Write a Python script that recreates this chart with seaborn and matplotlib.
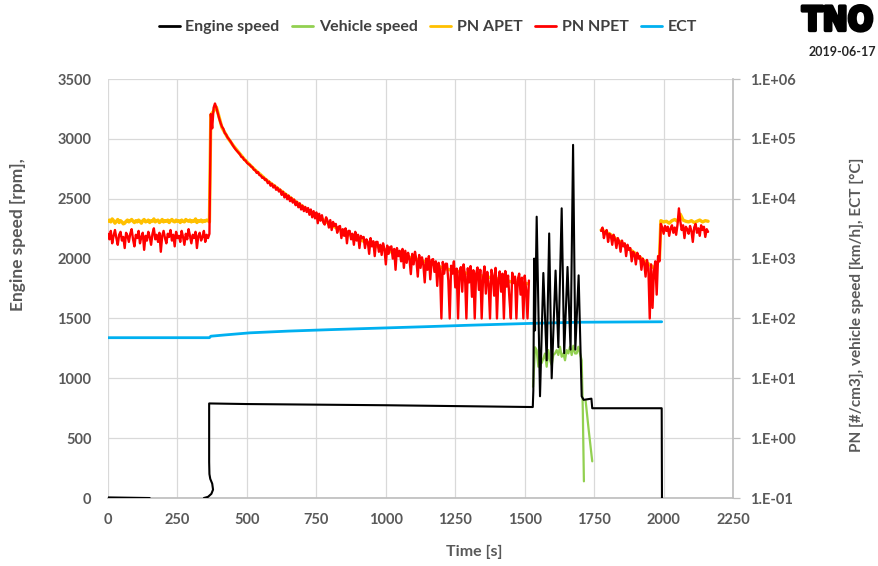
import numpy as np
import pandas as pd
import matplotlib
matplotlib.use("Agg")
import matplotlib.pyplot as plt
import matplotlib.patheffects as pe
from matplotlib.lines import Line2D
from matplotlib.ticker import FixedLocator, FuncFormatter, NullLocator
import seaborn as sns

# ---------------------------------------------------------------------------
# Measured signals (time in s). NaN marks a break in the trace.
# ---------------------------------------------------------------------------

# Engine speed [rpm]
eng_t = [0, 60, 150, np.nan, 345, 360, 372, 378, 375, 368, 365, 364, 364, 500, 1000,
         1529, 1531, 1534, 1537, 1543, 1555, 1567, 1579, 1588, 1597, 1611, 1621, 1633,
         1642, 1654, 1665, 1674, 1682, 1694, 1705, 1712, 1740, 1743, 1993, 1994]
eng_rpm = [5, 3, 0, np.nan, 0, 10, 35, 70, 120, 160, 200, 300, 790, 785, 775,
           760, 900, 2000, 1400, 2350, 850, 1880, 1150, 2210, 1000, 1900, 1260, 2420,
           1210, 1930, 1240, 2950, 1240, 1860, 850, 820, 830, 750, 750, 0]

# Vehicle speed [km/h]
veh_t = [1530, 1537, 1543, 1549, 1555, 1561, 1567, 1573, 1579, 1585, 1591, 1597, 1603,
         1609, 1615, 1621, 1627, 1633, 1639, 1645, 1651, 1657, 1663, 1669, 1675, 1681,
         1687, 1693, 1699, 1705, 1709, 1713, np.nan, 1719, 1730, 1743]
veh_kmh = [7.2, 33, 29.6, 15.6, 26, 18, 21.5, 26, 15.6, 29.6, 20, 16.7, 24.5,
           26, 29.6, 24.5, 33.7, 22.9, 26, 20, 29.6, 26, 33.7, 24.5, 35, 26,
           26, 33.7, 26, 20, 3, 0.19, np.nan, 4.3, 1.4, 0.41]

# Engine coolant temperature [degC]
ect_t = [0, 365, 370, 420, 511, 650, 800, 979, 1150, 1300, 1534, 1700, 1993]
ect_c = [47.7, 47.7, 50.5, 53, 57.5, 61.5, 65, 69, 73, 77, 83, 86.5, 88]

# PN NPET [#/cm3], logged every 5 s in four stretches
npet_1_start = 0
npet_1 = [2600, 2100, 2900, 1800, 2400, 3000, 2200, 1700, 2500, 2800,
          2000, 2300, 1500, 2700, 2400, 1900, 2600, 3100, 2100, 1600,
          2500, 2200, 2900, 1800, 2300, 2700, 1400, 2400, 2000, 2800,
          2300, 1700, 2600, 3200, 2100, 2500, 1900, 2700, 1300, 2400,
          2900, 2200, 1800, 2600, 2300, 3000, 2000, 2500, 1600, 2800,
          2200, 2400, 1900, 2900, 2300, 1700, 2600, 2100, 3100, 2400,
          1800, 2500, 2200, 2800, 1500, 2400, 2700, 2000, 2300, 2900,
          1900, 2500, 2200, 2600]
npet_2_start = 370
npet_2 = [260000, 150000, 330000, 390000, 330000, 270000, 220000, 185000, 160000, 148000,
          126000, 118000, 106000, 99000, 92000, 84000, 77000, 71000, 66000, 62000,
          58000, 55000, 50000, 49000, 44500, 43500, 40000, 38000, 37000, 34500,
          33500, 30500, 30000, 27000, 27800, 24800, 24500, 22300, 22600, 20500,
          21000, 18200, 19300, 16500, 17800, 15400, 16600, 14100, 15300, 13200,
          14200, 11600, 13100, 10500, 12000, 9800, 11300, 9100, 10400, 8600,
          9700, 7800, 8900, 7200, 8400, 6600, 7700, 6200, 7300, 6000,
          7000, 5400, 6600, 4900, 6200, 4700, 5900, 3900, 5600, 4300,
          5300, 4000, 3700, 4900, 4300, 3300, 4400, 3000, 4100, 3500,
          3800, 2700, 3400, 3500, 2200, 3100, 2400, 3200, 1800, 2900,
          2900, 2100, 2600, 1700, 2800, 2000, 2500, 1500, 2400, 2200,
          2300, 1500, 2100, 1900, 1200, 2200, 1600, 1950, 1100, 1900,
          1900, 1300, 1700, 1150, 1800, 1450, 800, 1650, 1200, 1550,
          1600, 1000, 1450, 650, 1500, 1100, 1350, 900, 1450, 700,
          1350, 850, 1250, 1000, 550, 1200, 800, 1300, 950, 500,
          1150, 700, 1050, 800, 400, 1000, 650, 1100, 450, 950,
          980, 600, 900, 350, 850, 640, 100, 880, 560, 820,
          820, 430, 100, 760, 560, 900, 330, 680, 100, 610,
          720, 280, 800, 510, 100, 690, 400, 750, 230, 640,
          100, 560, 710, 300, 650, 100, 480, 740, 260, 600,
          380, 100, 650, 520, 240, 700, 100, 450, 610, 280,
          560, 100, 620, 340, 520, 210, 100, 580, 390, 500,
          100, 450, 560, 250, 480, 100, 520, 300, 100, 430]
npet_3_start = 1775
npet_3 = [2900, 3300, 2200, 2800, 3000, 1900, 2600, 2400, 1700, 2500,
          2100, 1500, 2200, 1900, 1300, 2000, 1600, 1800, 1100, 1700,
          1400, 1500, 900, 1300, 1200, 800, 1250, 1000, 1100, 650,
          1000, 850, 500, 950, 700, 100, 800, 150, 600, 900,
          250, 1100, 900]
npet_4_start = 1990
npet_4 = [3800, 3300, 2600, 3500, 2900, 3400, 2400, 3200, 3600, 2700,
          3300, 2500, 3700, 6900, 4200, 3000, 3600, 2200, 3400, 3100,
          2600, 3500, 2900, 1900, 3300, 3800, 2700, 3200, 2400, 3600,
          3000, 3400, 2300, 3100, 2800]

# PN APET [#/cm3]
apet_1_start, apet_1_step = 0, 5
apet_1 = [4200, 4400, 4100, 4600, 4300, 3900, 4200, 4500, 4000, 4300,
          4100, 3800, 3900, 4200, 4400, 4100, 4300, 4500, 4200, 4000,
          4300, 4100, 4400, 4200, 3900, 4300, 4500, 4100, 4200, 4400,
          4000, 4300, 4200, 4600, 4100, 4300, 4400, 4000, 4200, 4500,
          4100, 4300, 4200, 4400, 4000, 4300, 4500, 4200, 4100, 4400,
          4200, 4300, 4000, 4400, 4200, 4100, 4500, 4300, 4200, 4400,
          4100, 4300, 4200, 4600, 4000, 4300, 4200, 4400, 4100, 4300,
          4200, 4400, 4300, 4100]
apet_2_start, apet_2_step = 370, 20
apet_2 = [250000, 340000, 155000, 106000, 78000, 60000, 46000, 37000, 30000, 25000,
          20500, 17500, 15000, 12800, 10900, 9300, 8000, 6900, 6000, 5200,
          4600, 4000, 3500, 3100, 2800, 2500, 2300, 2050, 1850, 1700,
          1580, 1450, 1330, 1250, 1180, 1100, 1040, 980, 920, 860,
          800, 740, 690, 650, 620, 600, 570, 550, 530, 510,
          490, 470, 450, 430, 410, 400, 390, 380]
apet_3_start, apet_3_step = 1775, 10
apet_3 = [3000, 2900, 2700, 2600, 2400, 2200, 2000, 1900, 1750, 1600,
          1450, 1350, 1250, 1150, 1050, 950, 880, 820, 760, 700,
          800, 1000]
apet_4_start, apet_4_step = 1990, 10
apet_4 = [4300, 4100, 4200, 3900, 4300, 4500, 4200, 5500, 4400, 4200,
          4100, 4300, 4000, 4200, 4400, 4100, 4300, 4200]

legend_labels = ["Engine speed", "Vehicle speed", "PN APET", "PN NPET", "ECT"]
colors = {"eng": "#000000", "veh": "#92d050", "apet": "#ffc000",
          "npet": "#ff0000", "ect": "#00b0f0"}


def timeline(start, step, values):
    return start + step * np.arange(len(values))


def frame(t, v):
    """Long-form table; every NaN starts a new trace segment."""
    t = np.asarray(t, float)
    v = np.asarray(v, float)
    gap = np.isnan(t) | np.isnan(v)
    return pd.DataFrame({"t": t[~gap], "v": v[~gap], "seg": np.cumsum(gap)[~gap]})


nan = [np.nan]
npet_t = np.concatenate([timeline(npet_1_start, 5, npet_1), timeline(npet_2_start, 5, npet_2), nan,
                         timeline(npet_3_start, 5, npet_3), timeline(npet_4_start, 5, npet_4)])
npet_v = np.concatenate([npet_1, npet_2, nan, npet_3, npet_4])
apet_t = np.concatenate([timeline(apet_1_start, apet_1_step, apet_1),
                         timeline(apet_2_start, apet_2_step, apet_2), nan,
                         timeline(apet_3_start, apet_3_step, apet_3),
                         timeline(apet_4_start, apet_4_step, apet_4)])
apet_v = np.concatenate([apet_1, apet_2, nan, apet_3, apet_4])

# ---------------------------------------------------------------------------
sns.set_theme(style="white")
plt.rcParams["font.family"] = ["Lato", "DejaVu Sans"]
txt = "#595959"

fig = plt.figure(figsize=(8.79, 5.66), dpi=100)
ax = fig.add_axes([0.1229, 0.1201, 0.7111, 0.7403])   # log axis: PN, speed, ECT
ax_rpm = ax.twinx()                                   # linear axis: engine speed

ax.set_yscale("log")
ax.set_ylim(0.1, 1e6)
ax.set_xlim(0, 2250)
ax_rpm.set_ylim(0, 3500)

common = dict(x="t", y="v", units="seg", estimator=None, sort=False, legend=False)
sns.lineplot(data=frame(ect_t, ect_c), ax=ax, color=colors["ect"], lw=2.0, **common)
sns.lineplot(data=frame(veh_t, veh_kmh), ax=ax, color=colors["veh"], lw=1.6, **common)
sns.lineplot(data=frame(apet_t, apet_v), ax=ax, color=colors["apet"], lw=2.4, **common)
sns.lineplot(data=frame(npet_t, npet_v), ax=ax, color=colors["npet"], lw=1.7, **common)
sns.lineplot(data=frame(eng_t, eng_rpm), ax=ax_rpm, color=colors["eng"], lw=1.5, **common)

# axes cosmetics
ax.set_xlim(0, 2250)
ax.xaxis.set_major_locator(FixedLocator(np.arange(0, 2251, 250)))
ax.yaxis.set_major_locator(FixedLocator(10.0 ** np.arange(-1, 7)))
ax.yaxis.set_minor_locator(NullLocator())
ax.yaxis.set_major_formatter(FuncFormatter(lambda v, p: f"1.E{int(round(np.log10(v))):+03d}"))
ax_rpm.yaxis.set_major_locator(FixedLocator(np.arange(0, 3501, 500)))

ax.grid(True, which="major", color="#d9d9d9", lw=0.9)
ax.set_axisbelow(True)
for a in (ax, ax_rpm):
    a.set_xlabel("")
    a.set_ylabel("")
    for s in a.spines.values():
        s.set_visible(False)
ax.spines["bottom"].set_visible(True)
ax.spines["bottom"].set_color("#bfbfbf")
ax.spines["right"].set_visible(True)
ax.spines["right"].set_color("#bfbfbf")

tick_font = dict(labelsize=10.5, labelcolor=txt)
ax.yaxis.tick_right()
ax.tick_params(axis="y", which="major", right=True, left=False, labelright=True, labelleft=False,
               length=5, width=0.9, color="#bfbfbf", pad=7, **tick_font)
ax.tick_params(axis="x", length=0, pad=11, **tick_font)
ax_rpm.yaxis.tick_left()
ax_rpm.tick_params(axis="y", left=False, right=False, labelleft=True, labelright=False,
                   length=0, pad=12, **tick_font)
for lab in ax.get_xticklabels() + ax.get_yticklabels() + ax_rpm.get_yticklabels():
    lab.set_fontweight("bold")

# axis titles
title_kw = dict(color=txt, fontweight="bold")
fig.text(0.539, 0.025, "Time [s]", ha="center", va="center", fontsize=11.5, **title_kw)
fig.text(0.021, 0.585, "Engine speed [rpm],", rotation=90, ha="center", va="center",
         fontsize=12.5, **title_kw)
fig.text(0.975, 0.461, "PN [#/cm3], vehicle speed [km/h], ECT [°C]", rotation=90,
         ha="center", va="center", fontsize=11, **title_kw)

# legend
handles = [Line2D([], [], color=colors[k], lw=2) for k in ("eng", "veh", "apet", "npet", "ect")]
leg = fig.legend(handles, legend_labels, loc="center", bbox_to_anchor=(0.487, 0.952), ncol=5,
                 frameon=False, handlelength=1.3, handletextpad=0.35, columnspacing=0.8,
                 prop={"size": 11.5, "weight": "bold"})
for t in leg.get_texts():
    t.set_color("#404040")

# logo and date
fig.text(0.953, 0.963, "TNO", ha="center", va="center", fontsize=24, fontweight="bold",
         fontstretch="condensed", color="black", family=["DejaVu Sans"],
         path_effects=[pe.withStroke(linewidth=2.5, foreground="black")])
fig.text(0.958, 0.908, "2019-06-17", ha="center", va="center", fontsize=9,
         fontweight="bold", color="#262626")

fig.savefig("out.png", dpi=100)
